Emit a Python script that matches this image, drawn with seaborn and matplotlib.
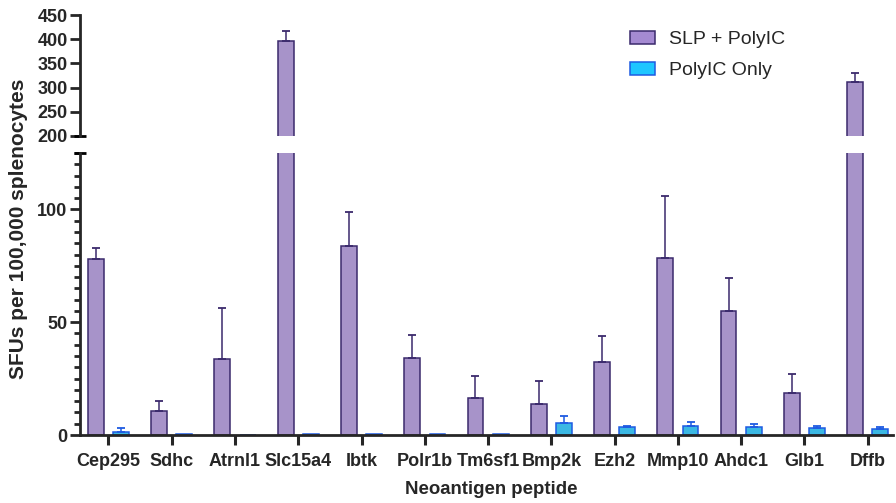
import numpy as np
import pandas as pd
import seaborn as sns
import matplotlib.pyplot as plt
from matplotlib.patches import Patch
from matplotlib.ticker import MultipleLocator, FixedLocator

peptides = ["Cep295", "Sdhc", "Atrnl1", "Slc15a4", "Ibtk", "Polr1b", "Tm6sf1",
            "Bmp2k", "Ezh2", "Mmp10", "Ahdc1", "Glb1", "Dffb"]
groups = ["SLP + PolyIC", "PolyIC Only"]

slp_mean = [78.0, 10.6, 33.5, 397.0, 83.6, 34.1, 16.4, 13.7, 32.3, 78.3, 54.9, 18.6, 312.0]
slp_sd = [5.0, 4.6, 23.0, 20.0, 15.1, 10.1, 9.7, 10.2, 11.5, 27.5, 14.6, 8.4, 19.0]
poly_mean = [1.2, 0.3, 0.0, 0.5, 0.3, 0.3, 0.3, 5.2, 3.4, 3.8, 3.4, 3.0, 2.8]
poly_sd = [1.8, 0.0, 0.0, 0.0, 0.0, 0.0, 0.0, 3.3, 0.7, 2.1, 1.6, 0.8, 0.6]

fill = {groups[0]: "#A58AD2", groups[1]: "#1FC6FF"}
edge = {groups[0]: "#3B2A6C", groups[1]: "#1E5BE2"}

df = pd.DataFrame({
    "peptide": peptides * 2,
    "group": [groups[0]] * len(peptides) + [groups[1]] * len(peptides),
    "sfu": slp_mean + poly_mean,
})
stats = {groups[0]: (slp_mean, slp_sd), groups[1]: (poly_mean, poly_sd)}

sns.set_style("ticks")
plt.rcParams["font.family"] = ["Liberation Sans", "DejaVu Sans"]
plt.rcParams["font.weight"] = "bold"

W, H = 896, 503
fig = plt.figure(figsize=(W / 100, H / 100), dpi=100)
left, right = 80, 893
ax_lo = fig.add_axes([left / W, (H - 435) / H, (right - left) / W, (435 - 153) / H])
ax_hi = fig.add_axes([left / W, (H - 136) / H, (right - left) / W, (136 - 15) / H])

spine_w = 2.0
for ax in (ax_lo, ax_hi):
    sns.barplot(data=df, x="peptide", y="sfu", hue="group", hue_order=groups,
                palette=fill, width=0.8, gap=0.375, errorbar=None,
                linewidth=1.1, legend=False, ax=ax)
    for cont, g in zip(ax.containers, groups):
        means, sds = stats[g]
        xs = []
        for bar in cont:
            bar.set_edgecolor(edge[g])
            xs.append(bar.get_x() + bar.get_width() / 2)
        xs = np.array(xs)
        m = np.array(means)
        s = np.array(sds)
        keep = s > 0
        ax.errorbar(xs[keep], m[keep], yerr=[np.zeros(keep.sum()), s[keep]],
                    fmt="none", ecolor=edge[g], elinewidth=1.1, capsize=3,
                    capthick=1.3, zorder=1)
    ax.set_xlim(-0.45, 12.4)
    ax.set_xlabel("")
    ax.set_ylabel("")
    for sp in ("top", "right"):
        ax.spines[sp].set_visible(False)
    ax.spines["left"].set_linewidth(spine_w)
    ax.spines["bottom"].set_linewidth(spine_w)

# lower segment
ax_lo.set_ylim(0, 125)
ax_lo.yaxis.set_major_locator(FixedLocator([0, 50, 100]))
ax_lo.yaxis.set_minor_locator(MultipleLocator(5))
ax_lo.tick_params(axis="y", which="major", length=7, width=spine_w, labelsize=13, pad=2)
ax_lo.tick_params(axis="y", which="minor", length=4, width=spine_w)
ax_lo.tick_params(axis="x", length=7, width=2.2, labelsize=13, pad=6)
for lab in ax_lo.get_xticklabels() + ax_lo.get_yticklabels():
    lab.set_fontweight("bold")

# upper segment
ax_hi.set_ylim(200, 450)
ax_hi.set_yticks([200, 250, 300, 350, 400, 450])
ax_hi.spines["bottom"].set_visible(False)
ax_hi.tick_params(axis="x", bottom=False, labelbottom=False)
ax_hi.tick_params(axis="y", length=7, width=spine_w, labelsize=13, pad=2)
for lab in ax_hi.get_yticklabels():
    lab.set_fontweight("bold")

# break marks at the ends of both segments
for ax, yv in ((ax_hi, 200), (ax_lo, 125)):
    ax.plot([-0.007, 0.007], [yv, yv], transform=ax.get_yaxis_transform(),
            color="black", lw=spine_w, clip_on=False, solid_capstyle="butt")

fig.text(18.5 / W, 1 - 229 / H, "SFUs per 100,000 splenocytes", rotation=90,
         ha="center", va="center", fontsize=15, fontweight="bold")
fig.text(491 / W, 1 - 490 / H, "Neoantigen peptide", ha="center", va="center",
         fontsize=13.4, fontweight="bold")

handles = [Patch(facecolor=fill[g], edgecolor=edge[g], linewidth=1.1, label=g) for g in groups]
leg = fig.legend(handles=handles, loc="upper left", bbox_to_anchor=(630 / W, 1 - 31 / H),
                 frameon=False, fontsize=14, handlelength=1.29, handleheight=0.62,
                 handletextpad=0.72, labelspacing=0.72, borderpad=0, borderaxespad=0)
for t in leg.get_texts():
    t.set_fontweight("normal")

fig.savefig("out.png", dpi=100)
